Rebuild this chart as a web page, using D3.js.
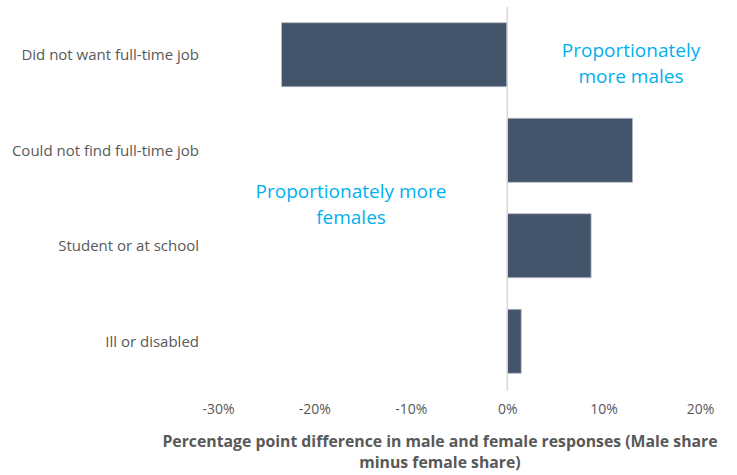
<!DOCTYPE html>
<html lang="en">
<head>
<meta charset="UTF-8">
<title>Male minus female share</title>
<script src="https://d3js.org/d3.v7.min.js"></script>
<style>
  body { margin: 0; background: #fff; }
  text { font-family: "Open Sans", Lato, sans-serif; }
</style>
</head>
<body>
<script>
// reasons and male share minus female share (percentage points)
var categories = ['Did not want full-time job', 'Could not find full-time job', 'Student or at school', 'Ill or disabled'];
var values = [-23.4, 13.0, 8.7, 1.45];
var ticks = [-30, -20, -10, 0, 10, 20];

var svg = d3.select('body').append('svg')
    .attr('width', 737)
    .attr('height', 475);

var x = d3.scaleLinear().domain([-30, 20]).range([218, 700]);
var y = d3.scaleBand().domain(categories).range([7, 389]).paddingInner(0.33).paddingOuter(0.165);

// bars
svg.selectAll('rect.bar')
    .data(values)
    .enter()
        .append('rect')
        .attr('class', 'bar')
        .attr('x', function(d) { return x(Math.min(0, d)); })
        .attr('y', function(d, i) { return y(categories[i]); })
        .attr('width', function(d) { return Math.abs(x(d) - x(0)); })
        .attr('height', y.bandwidth())
        .attr('fill', '#44546A')
        .attr('stroke', '#B4BAC4')
        .attr('stroke-width', 0.8);

// zero line
svg.append('line')
    .attr('x1', x(0)).attr('x2', x(0))
    .attr('y1', 7).attr('y2', 391)
    .attr('stroke', '#D9D9D9')
    .attr('stroke-width', 1.5);

// category labels
svg.selectAll('text.cat')
    .data(categories)
    .enter()
        .append('text')
        .attr('class', 'cat')
        .attr('x', 199)
        .attr('y', function(d) { return y(d) + y.bandwidth() / 2; })
        .attr('dy', '0.35em')
        .attr('text-anchor', 'end')
        .attr('font-size', 15)
        .attr('fill', '#595959')
        .text(function(d) { return d; });

// tick labels
var xAxis = d3.axisBottom(x)
    .tickValues(ticks)
    .tickSize(0)
    .tickPadding(0)
    .tickFormat(function(d) { return d + '%'; });

var gx = svg.append('g')
    .attr('transform', 'translate(0, 404)')
    .call(xAxis);
gx.select('.domain').remove();
gx.selectAll('text')
    .attr('font-family', 'Lato, "Open Sans", sans-serif')
    .attr('font-size', 14)
    .attr('fill', '#595959');

// axis title
var title = svg.append('text')
    .attr('x', 440)
    .attr('y', 447)
    .attr('text-anchor', 'middle')
    .attr('font-size', 15.8)
    .attr('font-weight', 'bold')
    .attr('fill', '#595959');
title.append('tspan').attr('x', 440).text('Percentage point difference in male and female responses (Male share');
title.append('tspan').attr('x', 440).attr('dy', 21).text('minus female share)');

// annotations
var males = svg.append('text')
    .attr('text-anchor', 'middle')
    .attr('font-family', 'Lato, "Open Sans", sans-serif')
    .attr('font-size', 19)
    .attr('fill', '#00B0F0');
males.append('tspan').attr('x', 631).attr('y', 57).text('Proportionately');
males.append('tspan').attr('x', 631).attr('y', 83).text('more males');

var females = svg.append('text')
    .attr('text-anchor', 'middle')
    .attr('font-family', 'Lato, "Open Sans", sans-serif')
    .attr('font-size', 19)
    .attr('fill', '#00B0F0');
females.append('tspan').attr('x', 351).attr('y', 198).text('Proportionately more');
females.append('tspan').attr('x', 351).attr('y', 224).text('females');
</script>
</body>
</html>
